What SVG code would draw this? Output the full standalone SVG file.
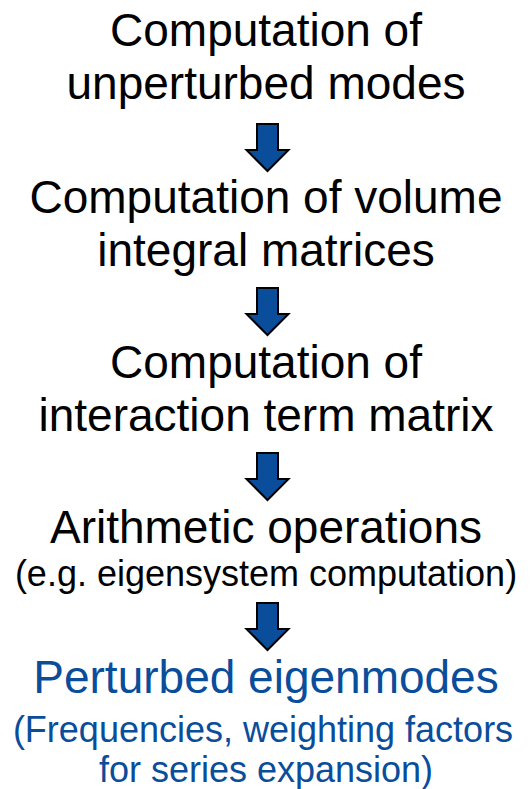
<svg xmlns="http://www.w3.org/2000/svg" width="532" height="789" viewBox="0 0 532 789">
<style>
text{font-family:"Liberation Sans",Arial,sans-serif;text-anchor:middle}
.b{font-size:46px;fill:#000}
.s{font-size:36px;fill:#000}
.bb{font-size:46px;fill:#0a4d9b}
.sb{font-size:36px;fill:#0a4d9b}
.arr{fill:#0a4d9b;stroke:#000;stroke-width:2;stroke-linejoin:miter}
</style>
<defs>
<path id="dn" d="M-10.5,0 H10.5 V26 H21 L0,47 L-21,26 H-10.5 Z"/>
</defs>
<rect width="532" height="789" fill="#fff"/>
<g id="n1"><text class="b" x="266" y="46">Computation of</text><text class="b" x="266" y="99">unperturbed modes</text></g>
<g id="n2"><text class="b" x="266" y="213">Computation of volume</text><text class="b" x="266" y="266">integral matrices</text></g>
<g id="n3"><text class="b" x="266" y="378">Computation of</text><text class="b" x="266" y="431">interaction term matrix</text></g>
<g id="n4"><text class="b" x="266" y="543">Arithmetic operations</text><text class="s" x="266" y="586">(e.g. eigensystem computation)</text></g>
<g id="n5"><text class="bb" x="266" y="693">Perturbed eigenmodes</text><text class="sb" x="263" y="742">(Frequencies, weighting factors</text><text class="sb" x="266" y="782">for series expansion)</text></g>
<g id="connectors">
<use href="#dn" class="arr" x="267.5" y="124"/>
<use href="#dn" class="arr" x="267.5" y="288"/>
<use href="#dn" class="arr" x="267.5" y="453"/>
<use href="#dn" class="arr" x="267.5" y="603"/>
</g>
</svg>
